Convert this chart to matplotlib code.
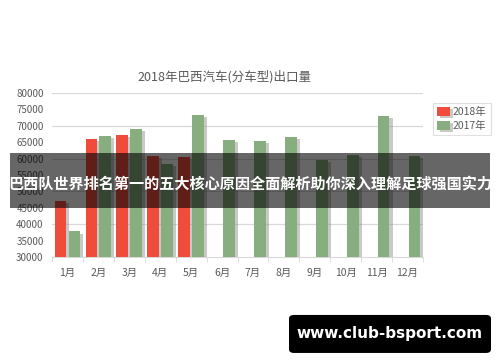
import numpy as np
import matplotlib
matplotlib.use("Agg")
import matplotlib.pyplot as plt
import matplotlib.patheffects as pe
from matplotlib.patches import Rectangle, FancyBboxPatch

plt.rcParams['font.family'] = ['Noto Sans CJK SC', 'DejaVu Sans']

months = ['1月', '2月', '3月', '4月', '5月', '6月', '7月', '8月', '9月', '10月', '11月', '12月']
exports_2018 = [47000, 66000, 67200, 60800, 60500]
exports_2017 = [37800, 66800, 69000, 58500, 73300, 65700, 65500, 66500, 59500, 61000, 73000, 60700]
yticks = list(range(30000, 80001, 5000))

red = '#F04C3C'
green = '#88AD7E'
text_col = '#595959'
grid_col = '#D9D9D9'

fig = plt.figure(figsize=(5, 3.62), dpi=100)
ax = fig.add_axes([0.104, 0.29, 0.742, 0.453])

x = np.arange(len(months))
w = 0.38
shadow = [pe.SimplePatchShadow(offset=(2.2, -1.5), shadow_rgbFace='#888888', alpha=0.45), pe.Normal()]
b1 = ax.bar(x[:len(exports_2018)] - 0.225, exports_2018, w, color=red, label='2018年', zorder=3)
b2 = ax.bar(x + 0.225, exports_2017, w, color=green, label='2017年', zorder=3)
for bar in list(b1) + list(b2):
    bar.set_path_effects(shadow)

ax.set_ylim(30000, 80000)
ax.set_xlim(-0.5, len(months) - 0.5)
ax.set_yticks(yticks)
ax.set_yticklabels([str(v) for v in yticks])
for v in range(40000, 80001, 10000):
    ax.axhline(v, color=grid_col, lw=0.9, zorder=1)

ax.set_xticks(x)
ax.set_xticklabels(months)
ax.set_xticks(np.arange(-0.5, len(months)), minor=True)
ax.tick_params(axis='x', which='major', length=0, pad=8, labelsize=7.5, labelcolor=text_col)
ax.tick_params(axis='x', which='minor', length=3.5, color=grid_col)
ax.tick_params(axis='y', length=0, pad=6, labelsize=7, labelcolor=text_col)
for s in ['top', 'right', 'left']:
    ax.spines[s].set_visible(False)
ax.spines['bottom'].set_color(grid_col)

fig.text(0.448, 0.788, '2018年巴西汽车(分车型)出口量', ha='center', va='center',
         fontsize=9, color=text_col)

leg = ax.legend(loc='upper left', bbox_to_anchor=(1.027, 0.94), borderaxespad=0,
                fontsize=7.5, frameon=True, fancybox=False, handlelength=1.2,
                handleheight=1.0, handletextpad=0.3, borderpad=0.4, labelspacing=0.35,
                labelcolor=text_col)
leg.get_frame().set_edgecolor(grid_col)
leg.get_frame().set_linewidth(0.8)

# overlay banner
fig.patches.append(Rectangle((0.02, 0.4254), 0.96, 0.152, transform=fig.transFigure,
                             facecolor='black', alpha=0.6, edgecolor='none', zorder=10))
fig.text(0.5, 0.494, '巴西队世界排名第一的五大核心原因全面解析助你深入理解足球强国实力',
         ha='center', va='center', fontsize=10.9, fontweight='bold', color='white', zorder=11)

# watermark
fig.patches.append(FancyBboxPatch((0.578, 0.025), 0.404, 0.105, transform=fig.transFigure,
                                  boxstyle='round,pad=0,rounding_size=0.01',
                                  facecolor='black', edgecolor='none', zorder=10))
fig.text(0.78, 0.078, 'www.club-bsport.com', ha='center', va='center',
         fontsize=11, fontweight='bold', color='white', family='DejaVu Sans', zorder=11)

fig.savefig('out.png', dpi=100)
